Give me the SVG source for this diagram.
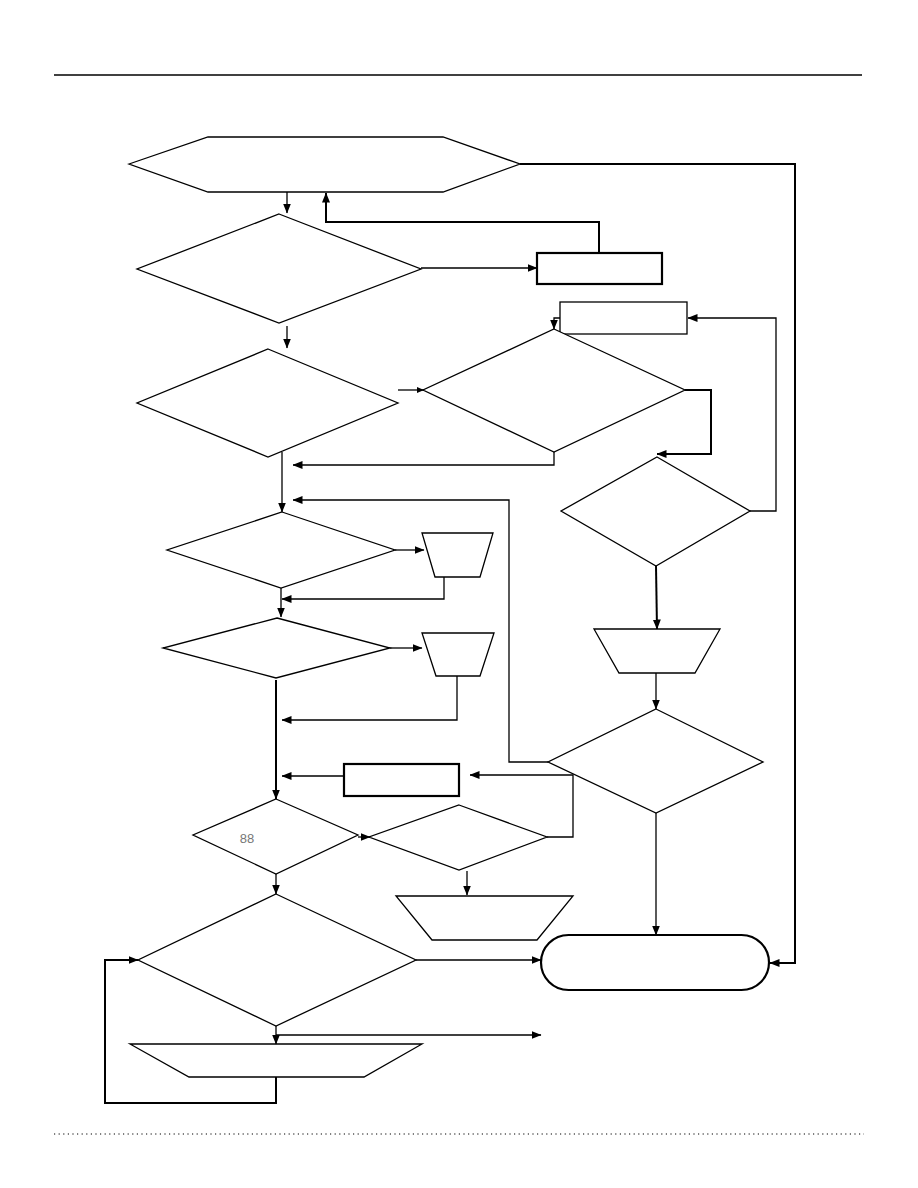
<svg xmlns="http://www.w3.org/2000/svg" width="918" height="1188" viewBox="0 0 918 1188">
<style>
.n{fill:#fff;stroke:#000;stroke-width:1.3}
.nt{fill:#fff;stroke:#000;stroke-width:2.2}
.c{fill:none;stroke:#000;stroke-width:1.3;marker-end:url(#ah)}
.ct{fill:none;stroke:#000;stroke-width:2;marker-end:url(#ah)}
.l{fill:none;stroke:#000;stroke-width:2}
</style>
<defs>
<marker id="ah" markerWidth="10" markerHeight="8" refX="9.5" refY="4" orient="auto" markerUnits="userSpaceOnUse"><path d="M0,0 L10,4 L0,8 z" fill="#000"/></marker>
<marker id="as" markerWidth="7" markerHeight="6" refX="7" refY="3" orient="auto" markerUnits="userSpaceOnUse"><path d="M0,0 L7,3 L0,6 z" fill="#000"/></marker>
</defs>
<rect width="918" height="1188" fill="#fff"/>
<line x1="54" y1="75" x2="862" y2="75" stroke="#000" stroke-width="1.6"/>
<line x1="54" y1="1134" x2="864" y2="1134" stroke="#000" stroke-width="1" stroke-dasharray="1.2,3.4"/>

<g id="hex"><polygon class="n" points="129,164 208,137 443,137 520,164 443,192 208,192"/></g>
<g id="d1"><polygon class="n" points="279,214 421,269 279,323 137,269"/></g>
<g id="r1"><rect class="nt" x="537" y="253" width="125" height="31"/></g>
<g id="r2"><rect class="n" x="560" y="302" width="127" height="32"/></g>
<g id="d2"><polygon class="n" points="268,349 398,403 268,457 137,403"/></g>
<g id="d2r"><polygon class="n" points="554,329 685,390 554,452 423,390"/></g>
<g id="d3"><polygon class="n" points="657,457 750,511 656,566 561,511"/></g>
<g id="d4"><polygon class="n" points="282,512 395,550 281,588 167,550"/></g>
<g id="t1"><polygon class="n" points="422,533 493,533 480,577 435,577"/></g>
<g id="d5"><polygon class="n" points="277,618 390,648 276,678 163,648"/></g>
<g id="t2"><polygon class="n" points="422,633 494,633 480,676 436,676"/></g>
<g id="t3"><polygon class="n" points="594,629 720,629 695,673 619,673"/></g>
<g id="d7"><polygon class="n" points="656,709 763,762 656,813 548,762"/></g>
<g id="r3"><rect class="nt" x="344" y="764" width="115" height="32"/></g>
<g id="d6"><polygon class="n" points="276,799 358,835 276,874 193,835"/>
<text x="247" y="843" font-family="Liberation Sans, Arial, sans-serif" font-size="13" fill="#777" text-anchor="middle">88</text></g>
<g id="d9"><polygon class="n" points="459,805 547,837 459,870 369,837"/></g>
<g id="t4"><polygon class="n" points="396,896 573,896 537,940 432,940"/></g>
<g id="d8"><polygon class="n" points="276,894 416,960 276,1026 138,960"/></g>
<g id="term"><rect class="nt" x="541" y="935" width="228" height="55" rx="27.5" ry="27.5"/></g>
<g id="t5"><polygon class="n" points="130,1044 422,1044 364,1077 189,1077"/></g>

<g id="connectors">
<path class="ct" d="M520,164 H795 V963 H770"/>
<path class="c" d="M287,192 V213"/>
<path class="ct" d="M599,253 V222 H326 V193"/>
<path class="c" d="M421,268 H537"/>
<path class="c" d="M287,326 V348"/>
<path d="M398,390 H424" fill="none" stroke="#000" stroke-width="1.3" marker-end="url(#as)"/>
<path class="c" d="M560,318 H554 V329"/>
<path class="c" d="M750,511 H776 V318 H688"/>
<path class="ct" d="M685,390 H711 V454 H657"/>
<path class="c" d="M554,452 V465 H293"/>
<path class="c" d="M282,452 V512"/>
<path class="c" d="M548,762 H509 V500 H293"/>
<path class="c" d="M395,550 H424"/>
<path class="c" d="M444,577 V599 H282"/>
<path class="c" d="M281,588 V617"/>
<path class="c" d="M390,648 H422"/>
<path class="c" d="M457,676 V720 H282"/>
<path class="ct" d="M276,680 V799"/>
<path class="c" d="M344,776 H282"/>
<path class="c" d="M547,837 H573 V775 H470"/>
<path class="c" d="M358,837 H370"/>
<path class="c" d="M467,871 V895"/>
<path class="c" d="M276,874 V894"/>
<path class="ct" d="M656,566 L657,629"/>
<path class="c" d="M656,673 V709"/>
<path class="c" d="M656,813 V935"/>
<path class="c" d="M416,960 H541"/>
<path class="c" d="M276,1026 V1044"/>
<path class="c" d="M276,1035 H541"/>
<path class="ct" d="M276,1077 V1103 H105 V960 H138"/>
</g>
</svg>
